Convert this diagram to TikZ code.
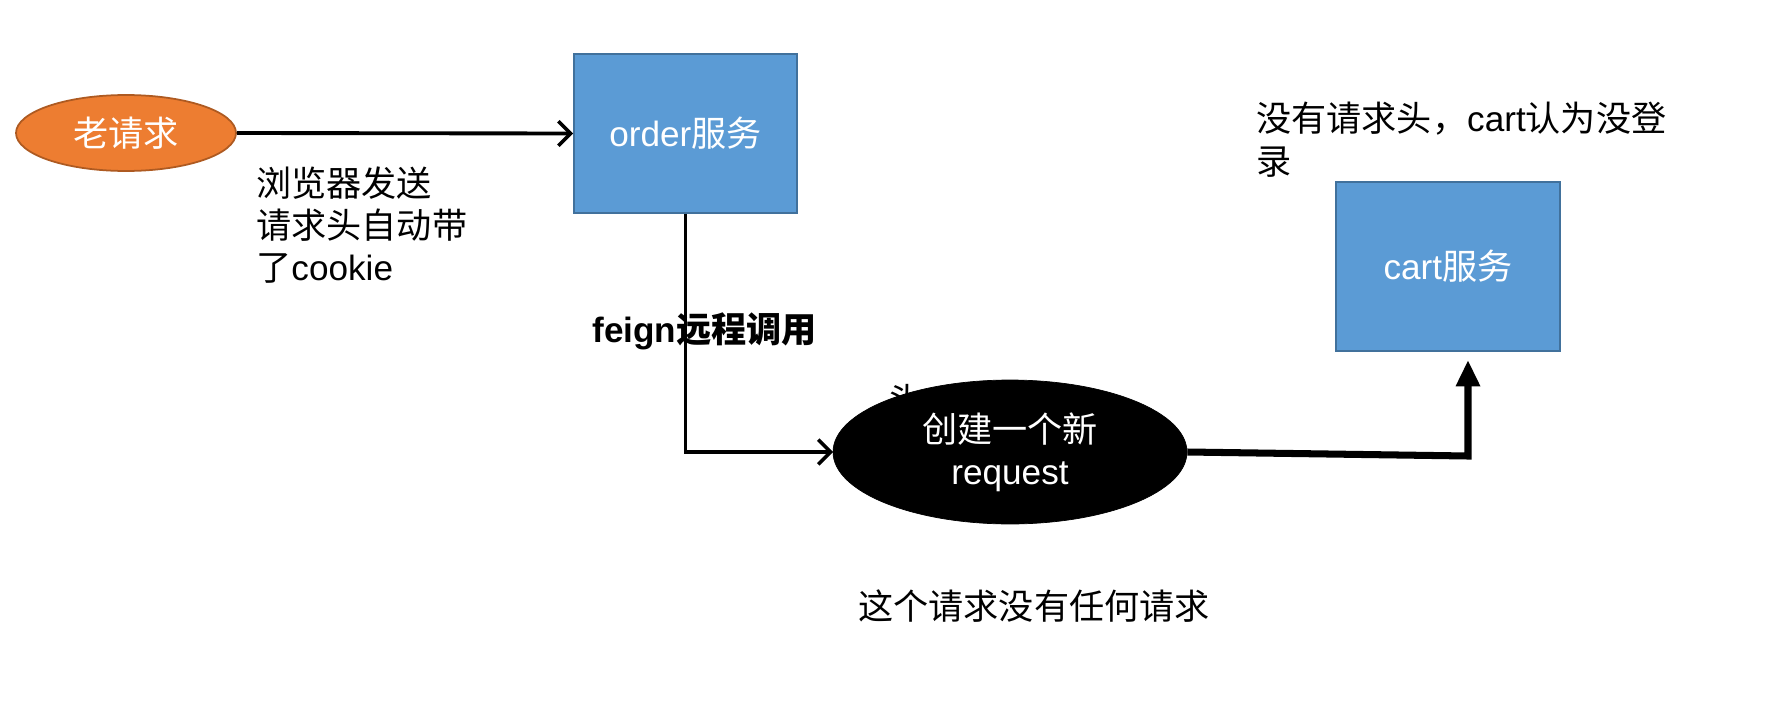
\documentclass[tikz,border=0pt]{standalone}
\usepackage{fontspec}
\setmainfont{Liberation Sans}
\newfontfamily\cjk{Noto Sans CJK SC}
\usetikzlibrary{shapes.geometric,arrows.meta}
\definecolor{boxblue}{HTML}{5B9BD5}
\definecolor{boxedge}{HTML}{41719C}
\definecolor{orangefill}{HTML}{ED7D31}
\definecolor{orangeedge}{HTML}{AE5A21}
\tikzset{
  svc/.style={rectangle, fill=boxblue, draw=boxedge, line width=1pt, text=white, font=\fontsize{20}{24}\selectfont},
  lbl/.style={text=black, font=\fontsize{20}{24}\selectfont, inner sep=0pt},
  thinarrow/.style={line width=2.2pt, -{Straight Barb[length=7pt,width=14pt,line width=2pt]}},
  thickarrow/.style={line width=4pt, -{Triangle[length=15pt,width=13pt]}}
}
\begin{document}
\begin{tikzpicture}[x=0.02cm,y=-0.02cm]
\useasboundingbox (0,0) rectangle (1786,710);
\fill[white] (0,0) rectangle (1786,710);

\node[ellipse, fill=orangefill, draw=orangeedge, line width=1pt, minimum width=4.4cm, minimum height=1.52cm, text=white, font=\fontsize{20}{24}\selectfont] (old) at (126,133) {\cjk 老请求};
\node[svc, minimum width=4.46cm, minimum height=3.18cm] (order) at (685.5,133.5) {order{\cjk 服务}};
\node[svc, minimum width=4.48cm, minimum height=3.38cm] (cart) at (1448,266.5) {cart{\cjk 服务}};

\node[lbl, anchor=north west, align=left] (browser) at (256,166) {{\cjk 浏览器发送}\\{\cjk 请求头自动带}\\{\cjk 了}cookie};
\node[lbl, anchor=north west, align=left] (nologin) at (1256,102) {{\cjk 没有请求头，}cart{\cjk 认为没登}\\{\cjk 录}};
\node[lbl, anchor=west] (none) at (858,606) {\cjk 这个请求没有任何请求};

\node[lbl] (hidden) at (905,400) {\cjk 头};

\draw[thinarrow] (old.east) -- (order.west);
\draw[thinarrow] (order.south) |- (833,452) coordinate (reqw);

\node[lbl, anchor=west, font=\fontsize{20}{24}\selectfont\bfseries] (feign) at (592,331) {feign{\cjk\bfseries 远程调用}};

\node[ellipse, fill=black, draw=black, minimum width=7.08cm, minimum height=2.88cm, text=white, align=center, font=\fontsize{20}{24}\selectfont, inner sep=0pt] (newreq) at (1010,452) {{\cjk 创建一个新}\\request};

\coordinate (corner) at (1468,456);
\coordinate (ctip) at (1468,360);
\draw[thickarrow] (newreq.east) -- (corner) -- (ctip);
\end{tikzpicture}
\end{document}
